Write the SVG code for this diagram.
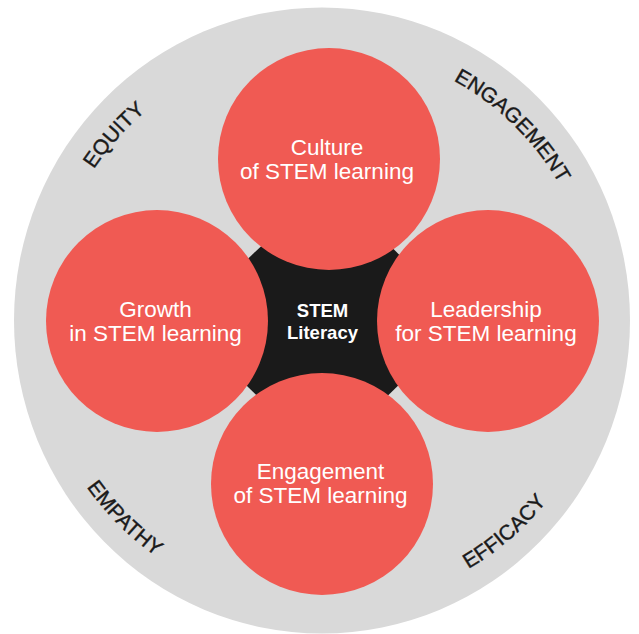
<svg xmlns="http://www.w3.org/2000/svg" width="639" height="634" viewBox="0 0 639 634">
  <style>
    .ring { fill: #d9d9d9; }
    .petal { fill: #f05a53; }
    .core { fill: #1a1a1a; }
    .ptext { font-family: "Liberation Sans", Arial, sans-serif; font-size: 22.5px; fill: #ffffff; text-anchor: middle; }
    .ctext { font-family: "Liberation Sans", Arial, sans-serif; font-size: 18.5px; font-weight: bold; fill: #ffffff; text-anchor: middle; }
    .otext { font-family: "Liberation Sans", Arial, sans-serif; font-size: 21px; fill: #1a1a1a; stroke: #1a1a1a; stroke-width: 0.4px; }
  </style>
  <defs>
    <path id="arc-equity" d="M48.1,312.4 A274,274 0 0 1 282.9,49.8"/>
    <path id="arc-engagement" d="M342.5,47.8 A274,274 0 0 1 594.7,293.8"/>
    <path id="arc-empathy" d="M35.1,346.1 A288,288 0 0 0 296.9,607.9"/>
    <path id="arc-efficacy" d="M326.5,609 A288,288 0 0 0 606.4,366.6"/>
  </defs>

  <g id="outer-ring">
    <ellipse class="ring" cx="322" cy="320.5" rx="308" ry="313"/>
  </g>

  <g id="values">
    <text class="otext"><textPath href="#arc-equity" startOffset="50%" text-anchor="middle">EQUITY</textPath></text>
    <text class="otext"><textPath href="#arc-engagement" startOffset="50%" text-anchor="middle">ENGAGEMENT</textPath></text>
    <text class="otext"><textPath href="#arc-empathy" startOffset="50%" text-anchor="middle">EMPATHY</textPath></text>
    <text class="otext"><textPath href="#arc-efficacy" startOffset="50%" text-anchor="middle">EFFICACY</textPath></text>
  </g>

  <g id="connectors"></g>

  <g id="stem-literacy">
    <polygon class="core" points="243.1,263.3 264.9,242.7 385.9,241.2 406.9,262.6 403.8,379.9 382.4,400.9 262.2,400.9 240.8,379.9"/>
  </g>

  <g id="culture">
    <circle class="petal" cx="329" cy="159" r="111"/>
    <text class="ptext" x="327" y="155">Culture</text>
    <text class="ptext" x="327" y="179">of STEM learning</text>
  </g>

  <g id="growth">
    <circle class="petal" cx="157" cy="321" r="111"/>
    <text class="ptext" x="155.5" y="317">Growth</text>
    <text class="ptext" x="155.5" y="341">in STEM learning</text>
  </g>

  <g id="leadership">
    <circle class="petal" cx="488" cy="321" r="111"/>
    <text class="ptext" x="486" y="317">Leadership</text>
    <text class="ptext" x="486" y="341">for STEM learning</text>
  </g>

  <g id="engagement">
    <circle class="petal" cx="322" cy="484" r="111"/>
    <text class="ptext" x="320.5" y="479">Engagement</text>
    <text class="ptext" x="320.5" y="503">of STEM learning</text>
  </g>

  <g id="stem-literacy-label">
    <text class="ctext" x="322.5" y="317">STEM</text>
    <text class="ctext" x="322.5" y="339">Literacy</text>
  </g>
</svg>
